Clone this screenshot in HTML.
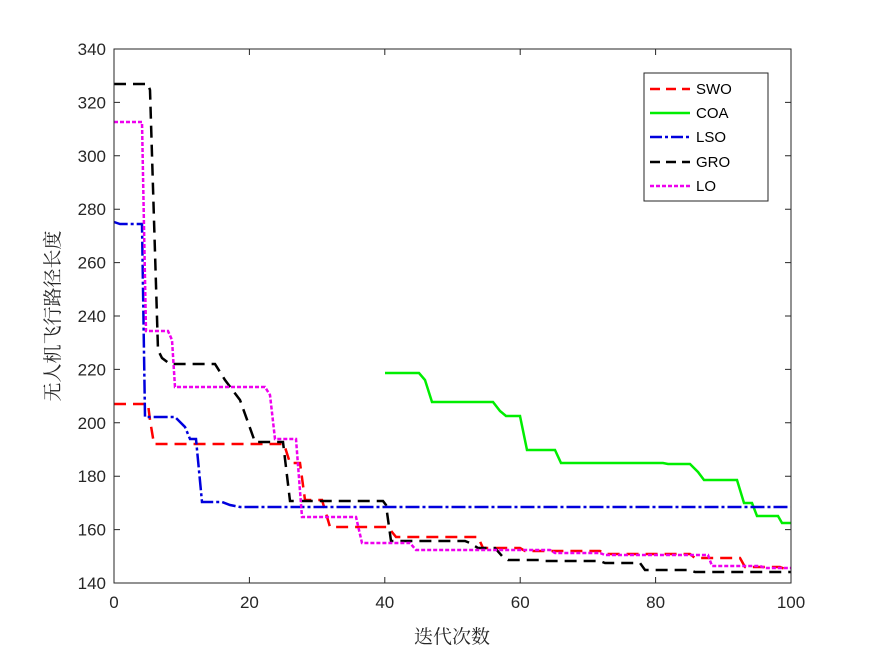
<!DOCTYPE html>
<html><head><meta charset="utf-8"><style>body{margin:0;background:#fff}svg{display:block}</style></head><body>
<svg width="875" height="656" xmlns="http://www.w3.org/2000/svg" font-family="Liberation Sans, sans-serif">
<rect width="875" height="656" fill="#fff"/>
<g fill="none" stroke-width="2.5">
<polyline stroke="#ff0000" stroke-dasharray="12,7" points="114,404 148,404 150,420 154,444 284,444 290,463 300,463 305,500 322,500 330,527 388,527 396,537 478,537 483,548 520,548 525,551 600,551 605,554 690,554 695,558 740,558 745,567 780,567 785,569 791,569"/>
<polyline stroke="#00ee00" points="385,373 419,373 425,380 432,402 493,402 500,411 506,416 520,416 527,450 555,450 561,463 663,463 668,464 690,464 698,472 704,480 737,480 744,503 752,503 757,516 778,516 782,523 791,523"/>
<polyline stroke="#0000dd" stroke-dasharray="14,3,3,3" points="114,222 120,224 142,224 145,417 175,417 185,427 190,439 196,439 202,502 222,502 230,505 240,507 791,507"/>
<polyline stroke="#000" stroke-dasharray="12,7" points="114,84 148,84 150,90 158,350 162,358 170,364 215,364 225,380 240,400 255,442 283,442 290,501 383,501 386,505 391,541 465,541 470,543 478,548 495,548 502,556 508,560 540,560 545,561 600,561 605,563 640,563 645,570 690,570 695,572 791,572"/>
<polyline stroke="#ee00ee" stroke-dasharray="4,2" points="114,122 142,122 146,331 168,331 172,340 175,387 265,387 270,395 275,439 296,439 302,517 356,517 362,543 410,543 416,550 550,550 555,553 600,553 605,555 708,555 712,566 760,566 765,568 791,568"/>
</g>
<rect x="114" y="49" width="677" height="534" fill="none" stroke="#262626" stroke-width="1"/>
<g stroke="#262626" stroke-width="1">
<path d="M114,583v-6M249.4,583v-6M384.8,583v-6M520.2,583v-6M655.6,583v-6M791,583v-6M114,49v6M249.4,49v6M384.8,49v6M520.2,49v6M655.6,49v6M791,49v6"/>
<path d="M114,583h6M114,529.6h6M114,476.2h6M114,422.8h6M114,369.4h6M114,316h6M114,262.6h6M114,209.2h6M114,155.8h6M114,102.4h6M114,49h6M791,583h-6M791,529.6h-6M791,476.2h-6M791,422.8h-6M791,369.4h-6M791,316h-6M791,262.6h-6M791,209.2h-6M791,155.8h-6M791,102.4h-6M791,49h-6"/>
</g>
<g font-size="17" fill="#262626" text-anchor="end">
<text x="106" y="589">140</text><text x="106" y="535.6">160</text><text x="106" y="482.2">180</text><text x="106" y="428.8">200</text><text x="106" y="375.4">220</text><text x="106" y="322">240</text><text x="106" y="268.6">260</text><text x="106" y="215.2">280</text><text x="106" y="161.8">300</text><text x="106" y="108.4">320</text><text x="106" y="55">340</text>
</g>
<g font-size="17" fill="#262626" text-anchor="middle">
<text x="114" y="608">0</text><text x="249.4" y="608">20</text><text x="384.8" y="608">40</text><text x="520.2" y="608">60</text><text x="655.6" y="608">80</text><text x="791" y="608">100</text>
</g>
<text x="452" y="643" font-size="19" text-anchor="middle" fill="#262626" font-family="Liberation Serif, Noto Serif CJK SC, serif">迭代次数</text>
<text transform="translate(59,316) rotate(-90)" font-size="19" text-anchor="middle" fill="#262626" font-family="Liberation Serif, Noto Serif CJK SC, serif">无人机飞行路径长度</text>
<rect x="644" y="73" width="124" height="128" fill="#fff" stroke="#262626" stroke-width="1"/>
<g fill="none" stroke-width="2.5">
<line x1="650" y1="89" x2="690" y2="89" stroke="#ff0000" stroke-dasharray="10,6"/>
<line x1="650" y1="113" x2="690" y2="113" stroke="#00ee00"/>
<line x1="650" y1="137" x2="690" y2="137" stroke="#0000dd" stroke-dasharray="12,3,3,3"/>
<line x1="650" y1="162" x2="690" y2="162" stroke="#000" stroke-dasharray="10,6"/>
<line x1="650" y1="186" x2="690" y2="186" stroke="#ee00ee" stroke-dasharray="4,2"/>
</g>
<g font-size="15" fill="#000">
<text x="696" y="94">SWO</text><text x="696" y="118">COA</text><text x="696" y="142">LSO</text><text x="696" y="167">GRO</text><text x="696" y="191">LO</text>
</g>
</svg>
</body></html>
